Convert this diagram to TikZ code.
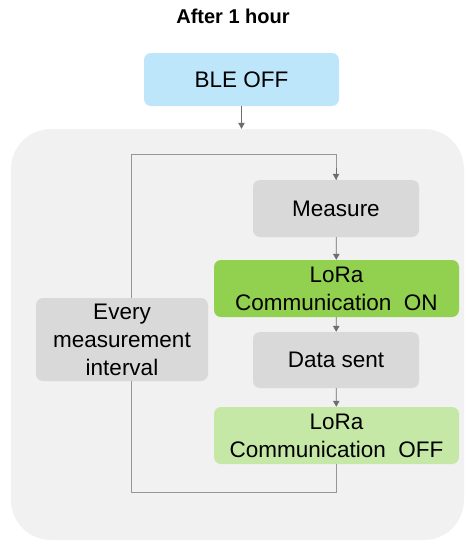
\documentclass[tikz,border=0pt]{standalone}
\usepackage{fontspec}
\setmainfont{Liberation Sans}
\usetikzlibrary{arrows.meta}
\definecolor{panelgray}{RGB}{241,241,241}
\definecolor{boxgray}{RGB}{217,217,217}
\definecolor{bleblue}{RGB}{189,230,250}
\definecolor{loragreen}{RGB}{146,208,80}
\definecolor{lorapale}{RGB}{197,232,167}
\definecolor{linegray}{RGB}{150,150,150}
\definecolor{tipgray}{RGB}{110,110,110}
\tikzset{
    stepbox/.style={rounded corners=7pt, align=center, inner sep=0pt,
        font=\fontsize{22.5}{28}\selectfont},
    flow/.style={draw=tipgray, line width=0.8pt, -{Triangle[length=6pt,width=6.5pt]}},
    loopline/.style={draw=linegray, line width=0.8pt}
}

\begin{document}
\begin{tikzpicture}[x=1pt, y=-1pt]
    \useasboundingbox (0,0) rectangle (466,542);
    \node[font=\bfseries\fontsize{20}{24}\selectfont, anchor=base] (title) at (233,23) {After 1 hour};
    \node[fill=panelgray, rounded corners=40pt, minimum width=453pt, minimum height=411pt] (panel) at (237.5,334.5) {};
    \node[stepbox, fill=bleblue, minimum width=195pt, minimum height=53pt] (ble) at (241.5,79.5) {BLE OFF};
    \node[stepbox, fill=boxgray, minimum width=166pt, minimum height=57pt] (measure) at (336,208.5) {Measure};
    \node[stepbox, fill=loragreen, minimum width=245pt, minimum height=57pt] (loraon) at (336.5,288.5) {LoRa\\Communication~ ON};
    \node[stepbox, fill=boxgray, minimum width=166pt, minimum height=56pt] (sent) at (336,360) {Data sent};
    \node[stepbox, fill=lorapale, minimum width=245pt, minimum height=57pt] (loraoff) at (336.5,435.5) {LoRa\\Communication~ OFF};
    \node[stepbox, fill=boxgray, minimum width=172pt, minimum height=83pt] (every) at (122,339.5) {Every\\measurement\\interval};
    \coordinate (looptop) at (131,154);
    \coordinate (loopbot) at (131,492);
    % flow down the panel
    \draw[flow] (ble.south) -- (ble.south |- panel.north);
    \draw[flow] (measure) -- (loraon);
    \draw[flow] (loraon) -- (sent);
    \draw[flow] (sent) -- (loraoff);
    % repeat loop
    \draw[loopline] (loraoff.south) |- (loopbot) -- (every.south -| loopbot);
    \draw[loopline] (every.north -| looptop) -- (looptop) -| (measure.north);
    \draw[flow] (measure.north) ++(0,-12) -- (measure.north);
\end{tikzpicture}
\end{document}
